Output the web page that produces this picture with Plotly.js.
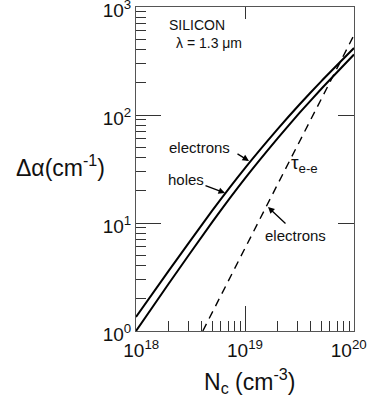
<!DOCTYPE html>
<html>
<head>
<meta charset="utf-8">
<script src="https://cdn.plot.ly/plotly-3.0.1.min.js"></script>
<style>
html,body{margin:0;padding:0;background:#fff;}
#chart{width:372px;height:398px;}
</style>
</head>
<body>
<div id="chart"></div>
<script>
// Carrier concentration Nc (cm^-3)
const nc = [1e18, 2e18, 5e18, 1e19, 2e19, 3.16e19, 5e19, 1e20];
// Delta alpha (cm^-1) for electrons (upper solid) and holes (lower solid)
const electrons = [1.35, 3.62, 13.0, 32.2, 74.3, 125, 205, 417];
const holes = [1.0, 2.75, 10.2, 25.9, 61.1, 104.5, 174, 363];
// tau e-e dashed curve (electrons)
const ncTau = [4.1e18, 1e19, 2e19, 5e19, 1e20];
const tauEE = [1.0, 5.9, 23, 140, 550];

const NB = '\u00a0';
const xTickVals = [1e18, 1e19, 1e20];
const xTickText = [NB + NB + '10<sup>18</sup>', '10<sup>19</sup>', '10<sup>20</sup>' + NB + NB];
const yTickVals = [1, 10, 100, 1000];
const yTickText = ['10<sup>0</sup>', '10<sup>1</sup>', '10<sup>2</sup>', '10<sup>3</sup>'];
const xMinor = [2e18,3e18,4e18,5e18,6e18,7e18,8e18,9e18,2e19,3e19,4e19,5e19,6e19,7e19,8e19,9e19];
const yMinor = [2,3,4,5,6,7,8,9,20,30,40,50,60,70,80,90,200,300,400,500,600,700,800,900];

const font = 'Arial, "Liberation Sans", Helvetica, sans-serif';

const traces = [
  {x: nc, y: electrons, mode: 'lines', line: {color: '#000', width: 2, shape: 'spline', smoothing: 0.5}, hoverinfo: 'skip'},
  {x: nc, y: holes, mode: 'lines', line: {color: '#000', width: 2, shape: 'spline', smoothing: 0.5}, hoverinfo: 'skip'},
  {x: ncTau, y: tauEE, mode: 'lines', line: {color: '#000', width: 1.4, dash: '8px,6px'}, hoverinfo: 'skip'},
  {x: [1e19], y: [10], xaxis: 'x2', yaxis: 'y2', mode: 'markers', marker: {opacity: 0}, hoverinfo: 'skip'}
];

const axCommon = {
  type: 'log', showgrid: false, zeroline: false,
  linecolor: '#555', linewidth: 1, ticks: 'inside', tickcolor: '#333', tickwidth: 1,
  ticklabeloverflow: 'allow',
  tickfont: {family: font, size: 19, color: '#111'}
};

const layout = {
  width: 372, height: 398,
  margin: {l: 136, r: 18, t: 7, b: 67},
  paper_bgcolor: '#fff', plot_bgcolor: '#fff',
  showlegend: false,
  xaxis: Object.assign({}, axCommon, {
    range: [18, 20], mirror: true, ticklen: 25, ticklabelstandoff: 2,
    tickmode: 'array', tickvals: xTickVals, ticktext: xTickText,
    minor: {ticks: 'inside', ticklen: 10, tickcolor: '#333', tickmode: 'array', tickvals: xMinor}
  }),
  yaxis: Object.assign({}, axCommon, {
    range: [0, 3], mirror: true, ticklen: 25, ticklabelshift: 3,
    tickmode: 'array', tickvals: yTickVals, ticktext: yTickText,
    minor: {ticks: 'inside', ticklen: 10, tickcolor: '#333', tickmode: 'array', tickvals: yMinor}
  }),
  xaxis2: {type: 'log', range: [18, 20], overlaying: 'x', side: 'top', anchor: 'y2',
    showgrid: false, zeroline: false, showline: false, showticklabels: false,
    ticks: 'inside', ticklen: 12, tickcolor: '#333', tickmode: 'array', tickvals: [1e19]},
  yaxis2: {type: 'log', range: [0, 3], overlaying: 'y', side: 'right', anchor: 'x2',
    showgrid: false, zeroline: false, showline: false, showticklabels: false,
    ticks: 'inside', ticklen: 16, tickcolor: '#333', tickmode: 'array', tickvals: [10, 100]},
  annotations: [
    {xref: 'paper', yref: 'paper', x: (167-136)/218, y: (331-25)/324, xanchor: 'left', yanchor: 'middle',
     text: 'SILICON', showarrow: false, font: {family: font, size: 14, color: '#111'}},
    {xref: 'paper', yref: 'paper', x: (174-136)/218, y: (331-43)/324, xanchor: 'left', yanchor: 'middle',
     text: 'λ = 1.3 μm', showarrow: false, font: {family: font, size: 14, color: '#111'}},
    {xref: 'paper', yref: 'paper', x: (167-136)/218, y: (331-147)/324, xanchor: 'left', yanchor: 'middle',
     text: 'electrons', showarrow: false, font: {family: font, size: 15, color: '#111'}},
    {xref: 'paper', yref: 'paper', x: (166-136)/218, y: (331-180)/324, xanchor: 'left', yanchor: 'middle',
     text: 'holes', showarrow: false, font: {family: font, size: 15, color: '#111'}},
    {xref: 'paper', yref: 'paper', x: (289-136)/218, y: (331-164)/324, xanchor: 'left', yanchor: 'middle',
     text: 'τ<sub>e-e</sub>', showarrow: false, font: {family: font, size: 19, color: '#111'}},
    {xref: 'paper', yref: 'paper', x: (263-136)/218, y: (331-235)/324, xanchor: 'left', yanchor: 'middle',
     text: 'electrons', showarrow: false, font: {family: font, size: 15, color: '#111'}},
    // arrows
    {xref: 'paper', yref: 'paper', x: (249-136)/218, y: (331-161)/324, text: '', showarrow: true,
     ax: -13, ay: -8, arrowhead: 2, arrowsize: 1, arrowwidth: 1.3, arrowcolor: '#000'},
    {xref: 'paper', yref: 'paper', x: (225-136)/218, y: (331-193)/324, text: '', showarrow: true,
     ax: -21, ay: -8, arrowhead: 2, arrowsize: 1, arrowwidth: 1.3, arrowcolor: '#000'},
    {xref: 'paper', yref: 'paper', x: (268-136)/218, y: (331-207)/324, text: '', showarrow: true,
     ax: 19, ay: 18, arrowhead: 2, arrowsize: 1, arrowwidth: 1.3, arrowcolor: '#000'},
    // axis titles
    {xref: 'paper', yref: 'paper', x: (14-136)/218, y: (331-166)/324, xanchor: 'left', yanchor: 'middle',
     text: 'Δα(cm<sup>-1</sup>)', showarrow: false, font: {family: font, size: 23, color: '#111'}},
    {xref: 'paper', yref: 'paper', x: (249-136)/218, y: (331-381)/324, xanchor: 'center', yanchor: 'middle',
     text: 'N<sub>c</sub> (cm<sup>-3</sup>)', showarrow: false, font: {family: font, size: 23, color: '#111'}}
  ]
};

Plotly.newPlot('chart', traces, layout, {staticPlot: true, displayModeBar: false});
</script>
</body>
</html>
